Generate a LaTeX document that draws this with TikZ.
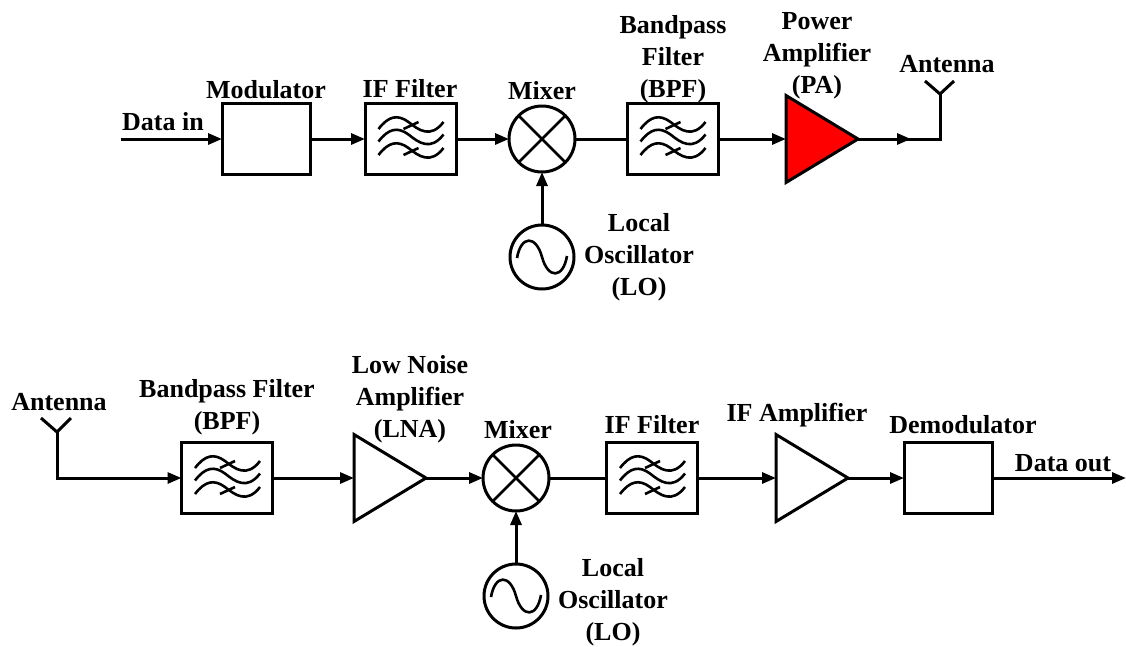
\documentclass[tikz,border=0pt]{standalone}
\usepackage{fontspec}
\setmainfont{Liberation Serif}
\usetikzlibrary{shapes.geometric, arrows.meta, positioning}

\begin{document}
\begin{tikzpicture}[
        x=1pt, y=-1pt,
        wire/.style = {line width=3pt},
        link/.style = {wire, -{Triangle[length=14pt,width=11pt]}},
        block/.style = {rectangle, draw=black, line width=3pt, inner sep=0pt, outer sep=0pt, minimum width=88pt, minimum height=71pt},
        filter/.style = {block, minimum width=91pt, path picture={
            \begin{scope}[shift={(path picture bounding box.center)}, line width=2.6pt]
                \foreach \dy in {0,12.5,26} {
                    \draw (-32,-10+\dy) .. controls (-22,-23+\dy) and (-13,-25+\dy) .. (-2,-17+\dy)
                        .. controls (8,-9+\dy) and (20,0+\dy) .. (33,-17+\dy);
                }
                \draw (-7,-10) -- (8,-17);
                \draw (-7,16) -- (8,9);
            \end{scope}
        }},
        mixer/.style = {circle, draw=black, line width=3pt, inner sep=0pt, outer sep=0pt, minimum size=66pt, path picture={
            \draw[line width=2.6pt] (path picture bounding box.north west) -- (path picture bounding box.south east);
            \draw[line width=2.6pt] (path picture bounding box.north east) -- (path picture bounding box.south west);
        }},
        osc/.style = {circle, draw=black, line width=3pt, inner sep=0pt, outer sep=0pt, minimum size=64pt, path picture={
            \begin{scope}[shift={(path picture bounding box.center)}]
                \draw[line width=2.6pt] (-25,1) .. controls (-21,-22) and (-6,-22) .. (0,0)
                    .. controls (6,22) and (21,22) .. (25,-1);
            \end{scope}
        }},
        amp/.style = {isosceles triangle, isosceles triangle stretches, shape border rotate=0, draw=black, line width=3pt, inner sep=0pt, outer sep=0pt, minimum width=87pt, minimum height=72pt, anchor=apex},
        lbl/.style = {font=\fontsize{26}{32}\selectfont\bfseries, align=center, inner sep=0pt}
    ]
    \useasboundingbox (0,0) rectangle (1126,646);

    % transmitter
    \begin{scope}
        \coordinate (txin) at (121,139);
        \node [block] (txmod) at (266,139) {};
        \node [filter] (txif) at (410.5,139) {};
        \node [mixer] (txmix) at (542,139) {};
        \node [osc] (txlo) at (542,257) {};
        \node [filter] (txbpf) at (672.5,139) {};
        \node [amp, fill=red] (txpa) at (858,139) {};
        \coordinate (txmid) at (911,139);
        \coordinate (txcorner) at (940,139);
        \coordinate (txant) at (940,94);
        \coordinate (txantl) at (925,81);
        \coordinate (txantr) at (954,81);

        \draw [link] (txin) -- (txmod.west);
        \draw [link] (txmod.east) -- (txif.west);
        \draw [link] (txif.east) -- (txmix.west);
        \draw [link] (txlo.north) -- (txmix.south);
        \draw [wire] (txmix.east) -- (txbpf.west);
        \draw [link] (txbpf.east) -- (txpa.west);
        \draw [wire] (txpa.apex) -- (txcorner) -- (txant);
        \draw [link] (txpa.apex) -- (txmid);
        \draw [wire] (txantl) -- (txant) -- (txantr);

        \node [lbl] (txinlbl) at (163,122) {Data in};
        \node [lbl] (txmodlbl) at (266,90) {Modulator};
        \node [lbl] (txiflbl) at (410,89) {IF Filter};
        \node [lbl] (txmixlbl) at (542,91) {Mixer};
        \node [lbl] (txbpflbl) at (673,59) {Bandpass\\Filter\\(BPF)};
        \node [lbl] (txpalbl) at (817,55.5) {Power\\Amplifier\\(PA)};
        \node [lbl] (txantlbl) at (947,64) {Antenna};
        \node [lbl] (txlolbl) at (639,257) {Local\\Oscillator\\(LO)};
    \end{scope}

    % receiver
    \begin{scope}[shift={(0,339)}]
        \coordinate (rxcorner) at (57,139);
        \coordinate (rxant) at (57,93);
        \coordinate (rxantl) at (41,79);
        \coordinate (rxantr) at (71,79);
        \node [filter] (rxbpf) at (227,139) {};
        \node [amp] (rxlna) at (426,139) {};
        \node [mixer] (rxmix) at (516,139) {};
        \node [osc] (rxlo) at (516,257) {};
        \node [filter] (rxif) at (652,139) {};
        \node [amp] (rxifa) at (848,139) {};
        \node [block] (rxdem) at (948,139) {};
        \coordinate (rxout) at (1126,139);

        \draw [wire] (rxantl) -- (rxant) -- (rxantr);
        \draw [link] (rxant) -- (rxcorner) -- (rxbpf.west);
        \draw [link] (rxbpf.east) -- (rxlna.west);
        \draw [link] (rxlna.apex) -- (rxmix.west);
        \draw [link] (rxlo.north) -- (rxmix.south);
        \draw [wire] (rxmix.east) -- (rxif.west);
        \draw [link] (rxif.east) -- (rxifa.west);
        \draw [link] (rxifa.apex) -- (rxdem.west);
        \draw [link] (rxdem.east) -- (rxout);

        \node [lbl] (rxantlbl) at (59,63) {Antenna};
        \node [lbl] (rxbpflbl) at (227,68.5) {Bandpass Filter\\(BPF)};
        \node [lbl] (rxlnalbl) at (410,60) {Low Noise\\Amplifier\\(LNA)};
        \node [lbl] (rxmixlbl) at (518,91) {Mixer};
        \node [lbl] (rxiflbl) at (652,86) {IF Filter};
        \node [lbl] (rxifalbl) at (797,76) {IF Amplifier};
        \node [lbl] (rxdemlbl) at (963,86) {Demodulator};
        \node [lbl] (rxoutlbl) at (1063,124) {Data out};
        \node [lbl] (rxlolbl) at (613,263) {Local\\Oscillator\\(LO)};
    \end{scope}
\end{tikzpicture}
\end{document}
